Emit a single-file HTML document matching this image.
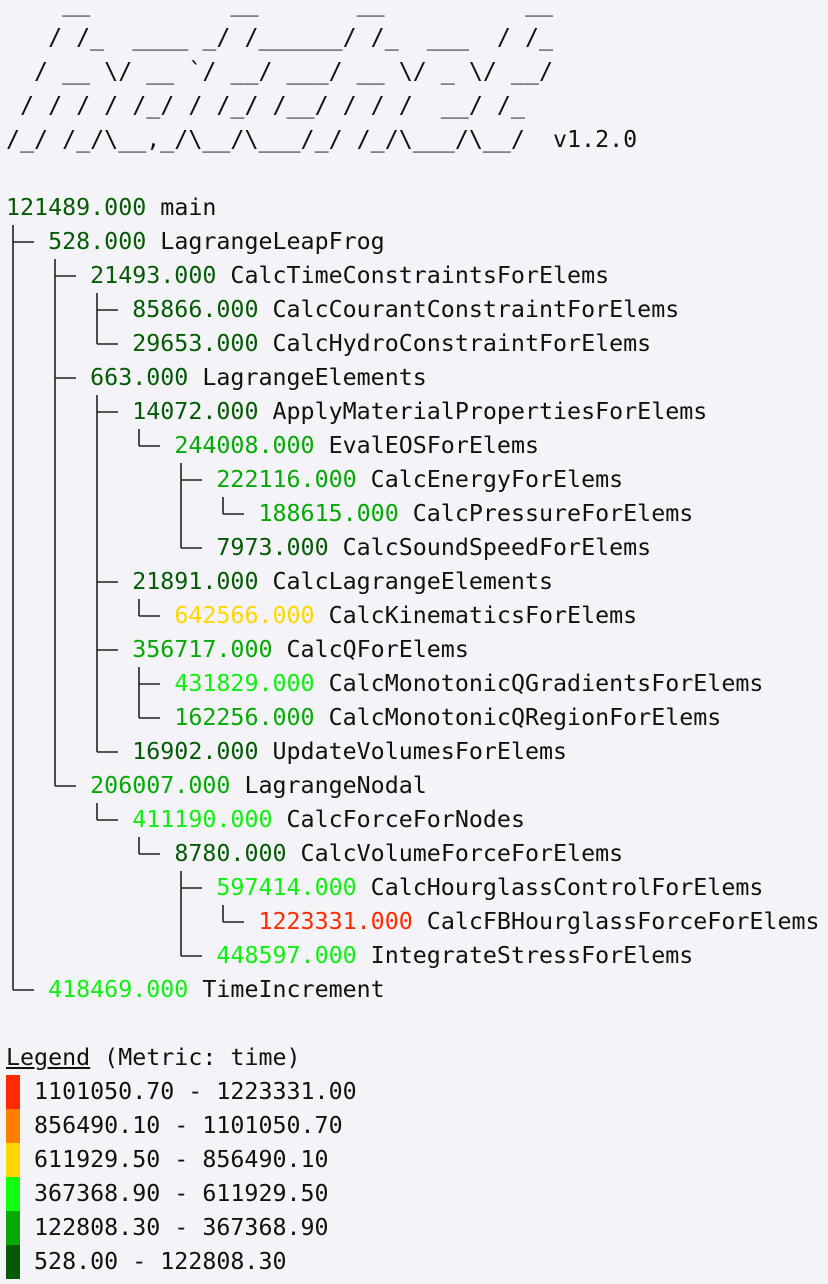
<!DOCTYPE html>
<html><head><meta charset="utf-8"><style>
html,body{margin:0;padding:0;background:#f4f4f8;width:828px;height:1284px;overflow:hidden}
pre{margin:0;position:absolute;left:6px;top:-13px;font-family:"DejaVu Sans Mono","Liberation Mono",monospace;font-size:23.3px;line-height:34px;color:#111}
.d{color:#055a05}.m{color:#06a806}.b{color:#11ee11}.y{color:#ffd600}.r{color:#ff2a00}
.k{display:inline-block;width:14px;height:34px;vertical-align:top}
u{text-decoration:underline}
svg{position:absolute;left:0;top:0}
</style></head><body><pre>    __          __       __          __
   / /_  ____ _/ /______/ /_  ___  / /_
  / __ \/ __ `/ __/ ___/ __ \/ _ \/ __/
 / / / / /_/ / /_/ /__/ / / /  __/ /_
/_/ /_/\__,_/\__/\___/_/ /_/\___/\__/  v1.2.0

<span class="d">121489.000</span> main
   <span class="d">528.000</span> LagrangeLeapFrog
      <span class="d">21493.000</span> CalcTimeConstraintsForElems
         <span class="d">85866.000</span> CalcCourantConstraintForElems
         <span class="d">29653.000</span> CalcHydroConstraintForElems
      <span class="d">663.000</span> LagrangeElements
         <span class="d">14072.000</span> ApplyMaterialPropertiesForElems
            <span class="m">244008.000</span> EvalEOSForElems
               <span class="m">222116.000</span> CalcEnergyForElems
                  <span class="m">188615.000</span> CalcPressureForElems
               <span class="d">7973.000</span> CalcSoundSpeedForElems
         <span class="d">21891.000</span> CalcLagrangeElements
            <span class="y">642566.000</span> CalcKinematicsForElems
         <span class="m">356717.000</span> CalcQForElems
            <span class="b">431829.000</span> CalcMonotonicQGradientsForElems
            <span class="m">162256.000</span> CalcMonotonicQRegionForElems
         <span class="d">16902.000</span> UpdateVolumesForElems
      <span class="m">206007.000</span> LagrangeNodal
         <span class="b">411190.000</span> CalcForceForNodes
            <span class="d">8780.000</span> CalcVolumeForceForElems
               <span class="b">597414.000</span> CalcHourglassControlForElems
                  <span class="r">1223331.000</span> CalcFBHourglassForceForElems
               <span class="b">448597.000</span> IntegrateStressForElems
   <span class="b">418469.000</span> TimeIncrement

<u>Legend</u> (Metric: time)
<span class="k" style="background:#ff2a00"></span> 1101050.70 - 1223331.00
<span class="k" style="background:#ff8000"></span> 856490.10 - 1101050.70
<span class="k" style="background:#ffd600"></span> 611929.50 - 856490.10
<span class="k" style="background:#11ff11"></span> 367368.90 - 611929.50
<span class="k" style="background:#06a806"></span> 122808.30 - 367368.90
<span class="k" style="background:#055a05"></span> 528.00 - 122808.30
</pre>
<svg width="828" height="1284" stroke="#222" stroke-width="1.6" fill="none">
<path d="M13 225V990M55 259V786M97 293V344M97 395V752M139 429V446M181 463V548M223 497V514M139 599V616M139 667V718M97 803V820M139 837V854M181 871V956M223 905V922"/>
<path d="M13 242H34M55 276H76M97 310H118M97 344H118M55 378H76M97 412H118M139 446H160M181 480H202M223 514H244M181 548H202M97 582H118M139 616H160M97 650H118M139 684H160M139 718H160M97 752H118M55 786H76M97 820H118M139 854H160M181 888H202M223 922H244M181 956H202M13 990H34"/>
</svg>
</body></html>
